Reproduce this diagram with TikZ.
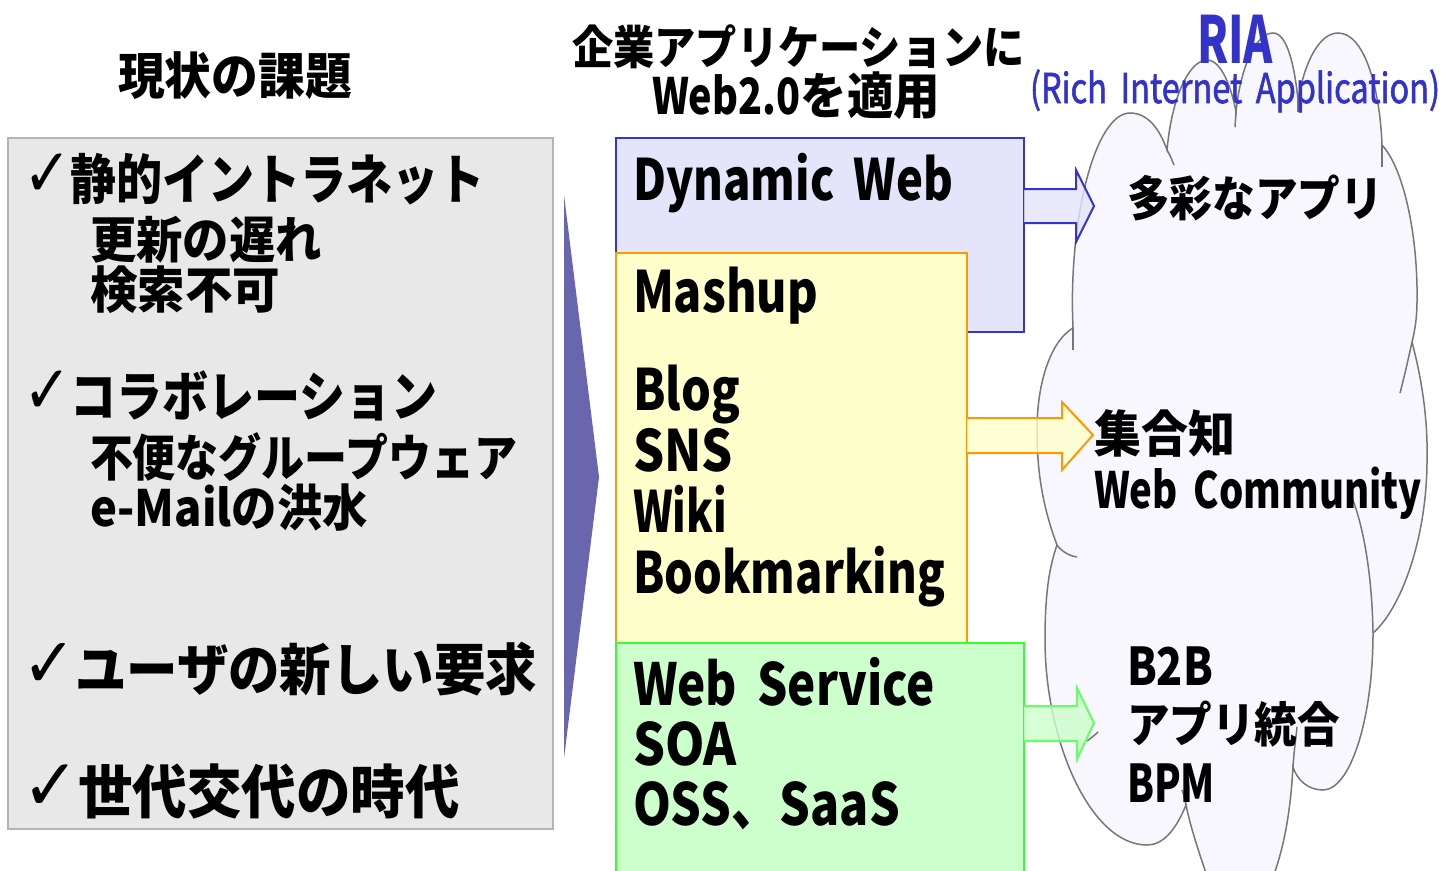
\documentclass[tikz,border=0pt]{standalone}
\usepackage{fontspec}
\usepackage{graphicx}
\newfontfamily\jp{Noto Sans CJK JP}
\newfontfamily\jpm{Noto Sans CJK JP}[FakeBold=1.6]
\newfontfamily\symf{DejaVu Sans}
\newlength\fw
\newcommand\fitto[2]{\settowidth\fw{#2}\pgfmathsetmacro\myfr{#1/\fw}\scalebox{\myfr}[1]{#2}}
\newcommand\chk{\hspace{-0.1em}{\symf\raisebox{0.05em}{\scalebox{1.25}{✓}}}\hspace{-0.03em}}
\newcommand\lat[1]{\scalebox{0.85}[1]{#1}}
\newcommand\wsp{\hspace{0.42em}}
\definecolor{grayfill}{HTML}{E8E8E8}
\definecolor{grayline}{HTML}{B4B4B4}
\definecolor{tri}{HTML}{6A66AE}
\definecolor{bfill}{HTML}{E4E4FA}
\definecolor{bline}{HTML}{3535CC}
\definecolor{yfill}{HTML}{FFFFCC}
\definecolor{yline}{HTML}{FF9900}
\definecolor{gfill}{HTML}{CCFFCC}
\definecolor{gline}{HTML}{33FF33}
\definecolor{garrow}{HTML}{66FF66}
\definecolor{cfill}{HTML}{F7F7FD}
\definecolor{cline}{HTML}{777777}
\definecolor{ria}{HTML}{3333CC}
\tikzset{
  lbl/.style={inner sep=0pt, outer sep=0pt, anchor=base west, font=\jp\bfseries\fontsize{#1}{#1}\selectfont},
  lblr/.style={inner sep=0pt, outer sep=0pt, anchor=base west, font=\jpm\fontsize{#1}{#1}\selectfont},
  cloudsty/.style={draw=cline, line width=1.5pt, fill=cfill},
  cloudline/.style={draw=cline, line width=1.5pt},
  boxsty/.style={line width=2pt},
}
\begin{document}
\begin{tikzpicture}[x=1pt,y=-1pt]
\useasboundingbox (0,0) rectangle (1456,870);
\fill[white] (0,0) rectangle (1456,870);

% left box
\draw[fill=grayfill, draw=grayline, line width=2pt] (8,138) rectangle (553,829);
% triangle
\fill[tri] (564,195) -- (599,477) -- (564,758) -- cycle;

% boxes
\draw[boxsty, fill=bfill, draw=bline] (616,138) rectangle (1024,332);
\draw[boxsty, fill=yfill, draw=yline] (616,253) rectangle (967,643);
\draw[boxsty, fill=gfill, draw=gline] (616,643) rectangle (1024,880);

% cloud
\path[cloudsty] (1073,328)
 .. controls (1068,220) and (1095,113) .. (1130,113)
 .. controls (1150,113) and (1161,133) .. (1167,150)
 .. controls (1172,95) and (1190,60) .. (1207,60)
 .. controls (1222,60) and (1232,90) .. (1236,112)
 .. controls (1240,70) and (1255,33) .. (1273,33)
 .. controls (1288,33) and (1295,70) .. (1298,100)
 .. controls (1305,60) and (1320,33) .. (1338,33)
 .. controls (1365,33) and (1380,90) .. (1382,145)
 .. controls (1405,170) and (1418,240) .. (1417,300)
 .. controls (1417,318) and (1415,330) .. (1412,342)
 .. controls (1422,380) and (1428,420) .. (1427,460)
 .. controls (1427,540) and (1400,610) .. (1373,633)
 .. controls (1373,720) and (1350,790) .. (1323,790)
 .. controls (1308,790) and (1297,780) .. (1293,767)
 .. controls (1290,820) and (1282,855) .. (1270,885)
 -- (1210,885)
 .. controls (1198,850) and (1190,825) .. (1186,805)
 .. controls (1175,832) and (1162,845) .. (1147,845)
 .. controls (1090,845) and (1045,740) .. (1045,640)
 .. controls (1045,590) and (1050,565) .. (1057,545)
 .. controls (1042,505) and (1037,470) .. (1037,430)
 .. controls (1037,380) and (1052,340) .. (1073,328) -- cycle;
% inner arcs of the cloud
\path[cloudline] (1167,150) .. controls (1170,155) and (1172,160) .. (1174,165);
\path[cloudline] (1236,112) -- (1235,127);
\path[cloudline] (1298,100) -- (1298,112);
\path[cloudline] (1382,145) -- (1382,167);
\path[cloudline] (1412,342) .. controls (1408,360) and (1404,378) .. (1400,393);
\path[cloudline] (1073,328) -- (1073,350);
\path[cloudline] (1057,545) .. controls (1062,552) and (1070,556) .. (1077,557);
\path[cloudline] (1350,493) .. controls (1362,520) and (1372,570) .. (1373,633);
\path[cloudline] (1293,767) .. controls (1294,750) and (1296,738) .. (1297,727);
\path[cloudline] (1186,805) .. controls (1185,800) and (1184,795) .. (1182,790);
\path[cloudline] (1087,741) .. controls (1091,738) and (1095,735) .. (1098,732);

% block arrows
\fill[bfill, fill opacity=0.8] (1024,189) -- (1076,189) -- (1076,170) -- (1094,206) -- (1076,242) -- (1076,223) -- (1024,223) -- cycle;
\draw[bline, line width=2pt, line join=miter] (1024,189) -- (1076,189) -- (1076,170) -- (1094,206) -- (1076,242) -- (1076,223) -- (1024,223);
\fill[yfill, fill opacity=0.8] (967,418) -- (1062,418) -- (1062,402) -- (1093,435) -- (1062,470) -- (1062,453) -- (967,453) -- cycle;
\draw[yline, line width=2pt, line join=miter] (967,418) -- (1062,418) -- (1062,402) -- (1093,435) -- (1062,470) -- (1062,453) -- (967,453);
\fill[gfill, fill opacity=0.8] (1024,706) -- (1077,706) -- (1077,688) -- (1094,723) -- (1077,759) -- (1077,741) -- (1024,741) -- cycle;
\draw[garrow, line width=2pt, line join=miter] (1024,706) -- (1077,706) -- (1077,688) -- (1094,723) -- (1077,759) -- (1077,741) -- (1024,741);

% headings
\node[lbl=50] (title) at (118,94) {\fitto{234}{現状の課題}};
\node[lbl=46] (head1) at (572,64) {\fitto{453}{企業アプリケーションに}};
\node[lbl=50] (head2) at (652,114) {\fitto{288}{\lat{Web2.0}を適用}};
\node[lbl=65, text=ria] (ria) at (1197,63) {\fitto{76}{RIA}};
\node[lblr=41, text=ria] (riafull) at (1030,103) {\fitto{410}{(Rich\wsp Internet\wsp Application)}};

% left box texts
\node[lbl=54] (r1) at (28,199) {\fitto{457}{\chk 静的イントラネット}};
\node[lbl=50] (r2) at (90,258) {\fitto{232}{更新の遅れ}};
\node[lbl=50] (r3) at (90,308) {\fitto{190}{検索不可}};
\node[lbl=54] (r4) at (28,416) {\fitto{409}{\chk コラボレーション}};
\node[lbl=50] (r5) at (90,476) {\fitto{427}{不便なグループウェア}};
\node[lbl=50] (r6) at (90,526) {\fitto{278}{e-Mailの洪水}};
\node[lbl=56] (r7) at (28,690) {\fitto{509}{\chk ユーザの新しい要求}};
\node[lbl=58] (r8) at (28,813) {\fitto{432}{\chk 世代交代の時代}};

% middle texts
\node[lbl=57] (dyn) at (633,200) {\fitto{320}{Dynamic\wsp Web}};
\node[lbl=57] (mash) at (633,312) {\fitto{185}{Mashup}};
\node[lbl=57] (blog) at (633,410) {\fitto{107}{Blog}};
\node[lbl=57] (sns) at (633,471) {\fitto{100}{SNS}};
\node[lbl=57] (wiki) at (633,532) {\fitto{94}{Wiki}};
\node[lbl=57] (bookm) at (633,593) {\fitto{312}{Bookmarking}};
\node[lbl=58] (ws) at (633,705) {\fitto{302}{Web\wsp Service}};
\node[lbl=58] (soa) at (633,765) {\fitto{104}{SOA}};
\node[lbl=58] (oss) at (633,825) {\fitto{267}{OSS、SaaS}};

% cloud texts
\node[lbl=48] (tasai) at (1127,216) {\fitto{256}{多彩なアプリ}};
\node[lbl=50] (shugo) at (1094,452) {\fitto{141}{集合知}};
\node[lbl=50] (webc) at (1094,508) {\fitto{328}{Web\wsp Community}};
\node[lbl=52] (b2b) at (1127,685) {\fitto{86}{B2B}};
\node[lbl=48] (appt) at (1127,742) {\fitto{213}{アプリ統合}};
\node[lbl=52] (bpm) at (1127,802) {\fitto{88}{BPM}};
\end{tikzpicture}
\end{document}
